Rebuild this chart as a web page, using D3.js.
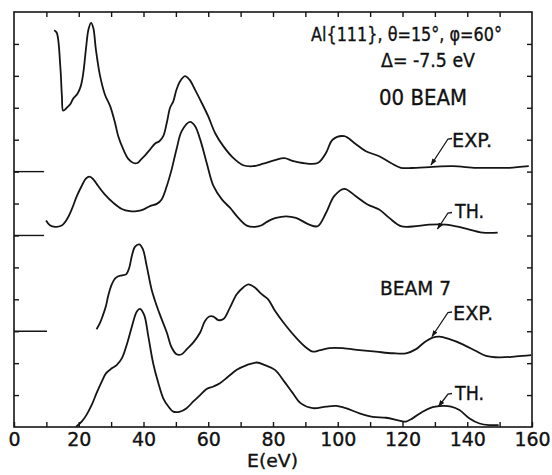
<!DOCTYPE html>
<html>
<head>
<meta charset="utf-8">
<script src="https://cdn.jsdelivr.net/npm/d3@7"></script>
<style>
  body { margin: 0; background: #fff; }
  svg text { font-family: "DejaVu Sans", "Liberation Sans", sans-serif; fill: #111; stroke: #111; stroke-width: 0.35; }
</style>
</head>
<body>
<svg id="chart" width="552" height="475"></svg>
<script>
// energies (eV) and intensities relative to each curve's own baseline (in tick units)
const beam00ExpE = [12.4,13.2,14.3,14.8,15.2,16.3,17.3,18.3,19.6,20.6,21.4,22.2,23.0,23.8,24.5,25.3,26.6,28.1,29.7,31.2,32.2,33.8,35.3,36.9,38.1,39.4,40.5,42.0,43.6,44.9,46.1,47.2,48.2,49.2,50.2,51.3,52.8,54.2,55.9,58.0,60.0,62.1,64.7,67.7,70.8,73.9,77.0,80.6,83.5,86,89.2,93.8,96.4,98.4,102,105.1,108.7,112.8,116.4,119.5,124.2,129.3,135.5,142.7,147.9,153,159]
const beam00ExpI = [4.43,4.35,3.30,2.36,1.91,2.00,2.10,2.29,2.44,2.67,3.09,3.82,4.45,4.66,4.50,3.82,2.99,2.41,2.05,1.53,1.11,0.69,0.40,0.27,0.27,0.40,0.51,0.69,0.88,0.95,1.11,1.53,2.00,2.20,2.57,2.83,2.99,2.88,2.57,2.15,1.73,1.21,0.79,0.43,0.20,0.17,0.25,0.36,0.42,0.34,0.27,0.27,0.59,1.00,1.11,0.90,0.64,0.48,0.27,0.12,0.12,0.15,0.17,0.12,0.12,0.12,0.17]

const beam00ThE = [9.9,11.1,12.7,14.7,16.3,17.8,19.4,20.9,22.2,23.3,24.5,26.0,28.1,30.7,33.3,35.8,37.9,39.9,42.0,44.1,45.6,47.2,48.7,50.2,51.8,54.4,55.9,57.5,59.5,61.6,64.2,66.7,69.3,71.9,74.4,76.5,78.5,80.9,84,87.1,91.2,93.8,96.4,98.9,102,105.6,109.2,112.8,115.9,119.5,124.2,128.3,133.4,138.6,144.8,149.4]
const beam00ThI = [0.47,0.32,0.27,0.31,0.50,0.81,1.23,1.55,1.78,1.84,1.76,1.55,1.28,1.02,0.83,0.76,0.76,0.81,0.92,0.99,1.13,1.55,2.07,2.70,3.27,3.56,3.43,3.01,2.28,1.55,1.13,0.87,0.55,0.31,0.27,0.32,0.45,0.55,0.60,0.55,0.34,0.29,0.71,1.23,1.46,1.23,0.97,0.81,0.55,0.29,0.29,0.34,0.34,0.24,0.09,0.09]

const beam7ExpE = [25.5,26.6,27.4,28.4,29.1,30.2,31.5,33.3,34.6,35.6,36.4,37.4,38.7,39.8,41.0,42.5,44.1,45.6,47.2,48.7,50.2,51.8,53.4,55.4,57.5,59.0,60.3,61.6,63.1,64.7,66.7,68.8,70.8,72.4,74.4,76.5,78.5,80.6,84,87.1,90.2,92.3,94.3,97.4,101.5,106.7,111.8,117,121.1,124.2,126.7,129.3,131.4,134.5,138.6,142.7,145.8,149.9,155.1,159.7]
const beam7ExpI = [0.06,0.27,0.48,0.79,1.11,1.47,1.68,1.75,1.78,1.99,2.36,2.65,2.72,2.57,2.04,1.31,0.79,0.38,-0.04,-0.51,-0.72,-0.72,-0.56,-0.35,-0.04,0.32,0.46,0.46,0.35,0.38,0.74,1.16,1.37,1.47,1.37,1.16,1.00,0.64,0.17,-0.20,-0.51,-0.64,-0.60,-0.53,-0.53,-0.59,-0.64,-0.69,-0.69,-0.56,-0.35,-0.20,-0.17,-0.25,-0.41,-0.62,-0.77,-0.82,-0.79,-0.75]

const beam7ThE = [19.2,20.9,22.4,24.0,25.5,27.1,28.4,30.2,31.7,33.3,34.8,36.4,37.9,38.9,40.2,41.5,43.0,44.6,46.1,47.7,49.2,51.3,53.3,55.4,57.5,59.5,61.6,63.6,66.2,68.8,71.9,75.0,77.5,80.6,83.5,86.1,88.6,92.3,96.4,99.5,102.5,106.7,110.8,114.9,119,121.1,123.1,126.2,129.3,132.4,135,137.6,140.7,143.8,146.8,149.7]
const beam7ThI = [0.01,0.17,0.38,0.69,1.06,1.42,1.68,1.84,1.94,2.15,2.57,3.14,3.61,3.70,3.51,2.83,1.99,1.37,0.90,0.64,0.48,0.48,0.59,0.80,1.00,1.19,1.27,1.37,1.58,1.79,1.94,2.02,1.94,1.79,1.42,1.06,0.74,0.59,0.64,0.66,0.59,0.43,0.32,0.29,0.20,0.17,0.27,0.48,0.62,0.66,0.64,0.53,0.27,0.11,0.06,0.06]

const curveNames = ['exp00', 'th00', 'exp7', 'th7']
const baselines = [8, 6, 3, 0]
const baseTickEnd = [9.3, 9.3, 10.2]   // short baseline stubs on the left for the upper three curves
const xTicks = [0,20,40,60,80,100,120,140,160]

const svg = d3.select('#chart')

const x = d3.scaleLinear().domain([0,160]).range([14,532])
const y = d3.scaleLinear().domain([0,13]).range([427,12])

const ink = '#151515'

// frame
svg.append('rect')
.attr('x', x(0)).attr('y', y(13))
.attr('width', x(160) - x(0)).attr('height', y(0) - y(13))
.attr('fill', 'none').attr('stroke', ink).attr('stroke-width', 1.6)

// bottom axis (ticks inward, labels every 20)
const bottomAx = svg.append('g')
.attr('transform', `translate(0,${y(0)})`)
.call(d3.axisBottom(x).tickValues(d3.range(0,161,10)).tickSizeInner(-5).tickSizeOuter(0).tickFormat(d => xTicks.includes(d) ? d : ''))
bottomAx.attr('font-family', null).attr('font-size', null)
bottomAx.select('.domain').remove()
bottomAx.selectAll('line').attr('stroke', ink).attr('stroke-width', 1.4)
bottomAx.selectAll('text').attr('font-size', 19).attr('dy', null).attr('y', 18.5).attr('fill', ink)

// top axis ticks
const topAx = svg.append('g')
.attr('transform', `translate(0,${y(13)})`)
.call(d3.axisTop(x).tickValues(d3.range(10,160,10)).tickSizeInner(-5).tickSizeOuter(0).tickFormat(''))
topAx.select('.domain').remove()
topAx.selectAll('line').attr('stroke', ink).attr('stroke-width', 1.4)

// left and right ticks
const leftAx = svg.append('g')
.attr('transform', `translate(${x(0)},0)`)
.call(d3.axisLeft(y).tickValues(d3.range(1,13)).tickSizeInner(-5).tickSizeOuter(0).tickFormat(''))
leftAx.select('.domain').remove()
leftAx.selectAll('line').attr('stroke', ink).attr('stroke-width', 1.4)

const rightAx = svg.append('g')
.attr('transform', `translate(${x(160)},0)`)
.call(d3.axisRight(y).tickValues(d3.range(1,13)).tickSizeInner(-5).tickSizeOuter(0).tickFormat(''))
rightAx.select('.domain').remove()
rightAx.selectAll('line').attr('stroke', ink).attr('stroke-width', 1.4)

// baseline stubs
baseTickEnd.forEach((e, i) => {
	svg.append('line')
	.attr('x1', x(0)).attr('x2', x(e))
	.attr('y1', y(baselines[i])).attr('y2', y(baselines[i]))
	.attr('stroke', ink).attr('stroke-width', 1.4)
})

// curves
const line = d3.line()
.curve(d3.curveCatmullRom.alpha(0.5))

const series = [
	[beam00ExpE, beam00ExpI],
	[beam00ThE, beam00ThI],
	[beam7ExpE, beam7ExpI],
	[beam7ThE, beam7ThI]
]

series.forEach(([es, is], k) => {
	const pts = es.map((e, i) => [x(e), y(is[i] + baselines[k])])
	svg.append('path')
	.attr('class', 'curve ' + curveNames[k])
	.attr('d', line(pts))
	.attr('fill', 'none')
	.attr('stroke', ink)
	.attr('stroke-width', 1.8)
	.attr('stroke-linejoin', 'round')
})

// curve labels with arrows
const labels = [
	{text: 'EXP.', tx: 452, ty: 146.5, w: 40, from: [450, 138.5], to: [431, 165]},
	{text: 'TH.', tx: 455, ty: 218, w: 29, from: [450, 212.5], to: [437.5, 229]},
	{text: 'EXP.', tx: 453, ty: 320, w: 40, from: [450, 312], to: [432, 336.5]},
	{text: 'TH.', tx: 455, ty: 400, w: 29, from: [450, 393.5], to: [438.5, 406.5]}
]

svg.append('defs').append('marker')
.attr('id', 'arrow')
.attr('viewBox', '0 0 10 10')
.attr('refX', 9).attr('refY', 5)
.attr('markerWidth', 7).attr('markerHeight', 7)
.attr('markerUnits', 'userSpaceOnUse')
.attr('orient', 'auto')
.append('path')
.attr('d', 'M0,1.5 L10,5 L0,8.5 Z')
.attr('fill', ink)

labels.forEach(l => {
	svg.append('text')
	.attr('x', l.tx).attr('y', l.ty)
	.attr('font-size', 20)
	.attr('textLength', l.w).attr('lengthAdjust', 'spacingAndGlyphs')
	.text(l.text)

	svg.append('path')
	.attr('d', `M${l.from[0]+2},${l.from[1]} L${l.from[0]-2},${l.from[1]+0.5} L${l.to[0]},${l.to[1]}`)
	.attr('fill', 'none')
	.attr('stroke', ink)
	.attr('stroke-width', 1.3)
	.attr('marker-end', 'url(#arrow)')
})

// annotation text
svg.append('text')
.attr('x', 311).attr('y', 41)
.attr('font-size', 19)
.attr('textLength', 191).attr('lengthAdjust', 'spacingAndGlyphs')
.text('Al{111}, θ=15°, φ=60°')

svg.append('text')
.attr('x', 381).attr('y', 66.5)
.attr('font-size', 20)
.attr('textLength', 94).attr('lengthAdjust', 'spacingAndGlyphs')
.text('Δ= -7.5 eV')

svg.append('text')
.attr('x', 379).attr('y', 105)
.attr('font-size', 21)
.attr('textLength', 88).attr('lengthAdjust', 'spacingAndGlyphs')
.text('00 BEAM')

svg.append('text')
.attr('x', 380).attr('y', 295)
.attr('font-size', 20)
.attr('textLength', 71).attr('lengthAdjust', 'spacingAndGlyphs')
.text('BEAM 7')

svg.append('text')
.attr('x', 247).attr('y', 467)
.attr('font-size', 18)
.attr('textLength', 51).attr('lengthAdjust', 'spacingAndGlyphs')
.text('E(eV)')
</script>
</body>
</html>
